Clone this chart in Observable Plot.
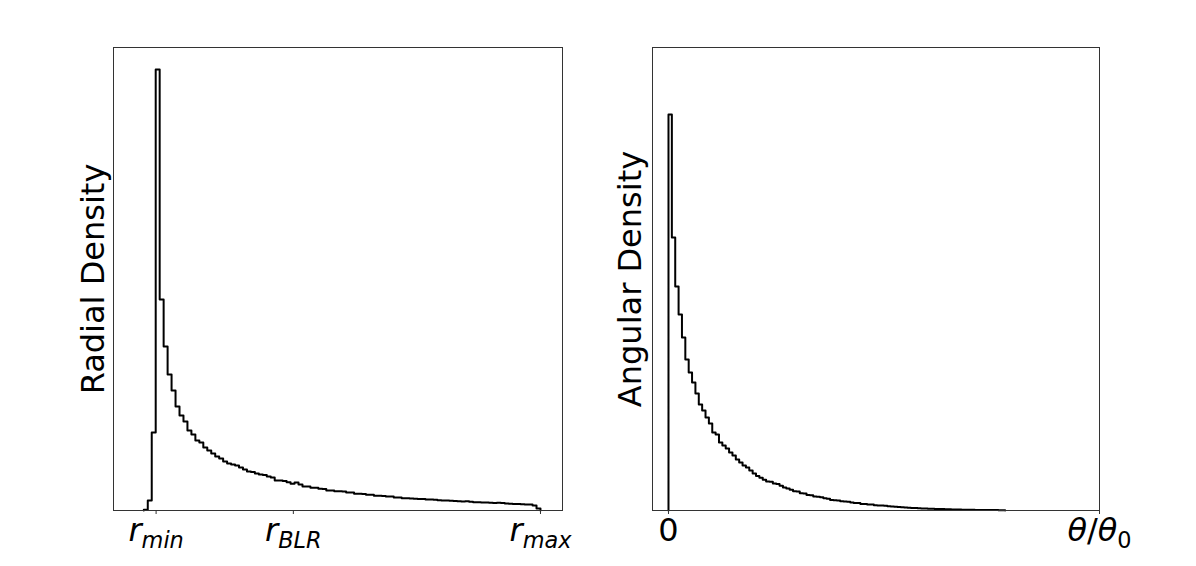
<!DOCTYPE html>
<html><head><meta charset="utf-8">
<script src="https://cdn.jsdelivr.net/npm/d3@7"></script>
<script src="https://cdn.jsdelivr.net/npm/@observablehq/plot@0.6"></script>
<style>
html,body{margin:0;padding:0;background:#fff;}
#wrap{position:relative;width:1196px;height:566px;overflow:hidden;background:#fff;}
#wrap svg{position:absolute;top:0;}
</style></head><body><div id="wrap"></div>
<script>
// Radial histogram (100 bins), heights in arbitrary density units
const radialDensity = [
  0.7, 10, 78, 441, 211, 164, 136, 120, 104, 95,
  89, 80, 76, 70, 68, 63, 60, 57, 54, 52,
  49, 47, 46, 45, 43, 41, 39, 38.5, 37, 36,
  35.5, 34, 33, 30, 30, 29.5, 28.3, 26.7, 28, 26,
  24, 24, 22.7, 22.7, 21.7, 21.5, 20, 20, 19.3, 19.3,
  19, 18, 18, 16.7, 16.7, 16.5, 15.7, 15.7, 14.7, 14.7,
  14.5, 14, 14, 13, 13, 12.3, 12.3, 12, 11.8, 11.5,
  11.5, 11, 11, 10.8, 10.3, 10, 10, 9.8, 9.6, 9.3,
  9.0, 9.3, 8.8, 8.3, 8.3, 8.1, 8.0, 7.8, 7.6, 7.7,
  7.4, 7.0, 6.7, 6.6, 6.5, 6.3, 6.1, 6.0, 5.0, 2.0
];
// Angular histogram (100 bins)
const angularDensity = [
  396, 273, 224, 196, 173, 151, 138, 128, 117, 106,
  100, 93, 87, 78, 76, 68, 65, 62, 58, 55,
  51, 48, 45, 43, 40, 37, 34.5, 32.7, 30.7, 29,
  28.7, 27, 26.5, 24.7, 23, 22, 20.7, 19.3, 19, 17.3,
  17, 15.6, 15.2, 14, 13.7, 13.3, 12.2, 11.8, 10.6, 10.3,
  10, 9.2, 9, 8.8, 7.9, 7.6, 7.4, 6.6, 6.4, 6.1,
  5.9, 5.3, 5.1, 4.9, 4.7, 4.2, 3.9, 3.7, 3.5, 3.3,
  3.1, 2.8, 2.6, 2.4, 2.3, 2.1, 1.9, 1.8, 1.7, 1.6,
  1.5, 1.4, 1.3, 1.2, 1.1, 1.0, 0.9, 0.8, 0.8, 0.7,
  0.7, 0.6, 0.6, 0.5, 0.5, 0.5, 0.4, 0.4, 0.3, 0.3
];
const radialBinRange = [0, 100];
const angularBinRange = [0, 0.781];
const radialTickValues = [3.1, 37.7, 100];
const radialTickLabels = ["r_min", "r_BLR", "r_max"];
const angularTickValues = [0, 1];
const angularTickLabels = ["0", "θ/θ_0"];
const radialLabel = "Radial Density";
const angularLabel = "Angular Density";

function outline(values, [lo, hi]) {
  const w = (hi - lo) / values.length;
  const pts = [{x: lo, y: 0}];
  values.forEach((v, i) => pts.push({x: lo + i * w, y: v}));
  pts.push({x: hi, y: 0});
  return pts;
}

const NS = "http://www.w3.org/2000/svg";
function runs(str) {
  const out = [];
  for (const ch of str) {
    const it = /\p{L}/u.test(ch);
    if (out.length && out[out.length - 1].it === it) out[out.length - 1].t += ch;
    else out.push({t: ch, it});
  }
  return out;
}
function mathify(el, s) {
  const [base, sub] = s.split("_");
  el.textContent = "";
  for (const r of runs(base)) {
    const t = document.createElementNS(NS, "tspan");
    if (r.it) t.setAttribute("font-style", "italic");
    t.textContent = r.t;
    el.appendChild(t);
  }
  if (sub) {
    let first = true;
    for (const r of runs(sub)) {
      const t = document.createElementNS(NS, "tspan");
      if (r.it) t.setAttribute("font-style", "italic");
      t.setAttribute("font-size", "22.4px");
      if (first) { t.setAttribute("dy", "0.3em"); first = false; }
      t.textContent = r.t;
      el.appendChild(t);
    }
  }
}

function panel({values, range, xDomain, ticks, labels, ylabel, marginLeft, marginRight, labelDx}) {
  const fmt = new Map(ticks.map((t, i) => [t, labels[i]]));
  const svg = Plot.plot({
    width: 598, height: 566,
    marginLeft, marginRight, marginTop: 47, marginBottom: 56,
    style: {fontFamily: "'DejaVu Sans'", fontSize: "32px", color: "black", background: "transparent", overflow: "visible"},
    x: {domain: xDomain, label: null},
    y: {domain: [0, 463], axis: null, label: null},
    marks: [
      Plot.line(outline(values, range), {x: "x", y: "y", curve: "step-after", stroke: "black", strokeWidth: 2}),
      Plot.frame({stroke: "#333", strokeWidth: 1}),
      Plot.axisX({ticks, tickFormat: d => fmt.get(d), tickSize: 4, tickPadding: 4, fontSize: 32, stroke: "#333", label: null}),
      Plot.text([ylabel], {frameAnchor: "left", rotate: -90, dx: labelDx, lineAnchor: "top", textAnchor: "middle", fontSize: 32, fill: "black"})
    ]
  });
  d3.select(svg).selectAll('g[aria-label="x-axis tick label"] text').each(function() {
    mathify(this, this.textContent);
  });
  return svg;
}

const wrap = document.getElementById("wrap");
const left = panel({
  values: radialDensity, range: radialBinRange, xDomain: [-7.64, 105.55],
  ticks: radialTickValues, labels: radialTickLabels, ylabel: radialLabel,
  marginLeft: 113, marginRight: 36, labelDx: -32
});
left.style.left = "0px";
wrap.appendChild(left);
const right = panel({
  values: angularDensity, range: angularBinRange, xDomain: [-0.0371, 1],
  ticks: angularTickValues, labels: angularTickLabels, ylabel: angularLabel,
  marginLeft: 54, marginRight: 97, labelDx: -34
});
right.style.left = "598px";
wrap.appendChild(right);
</script></body></html>
